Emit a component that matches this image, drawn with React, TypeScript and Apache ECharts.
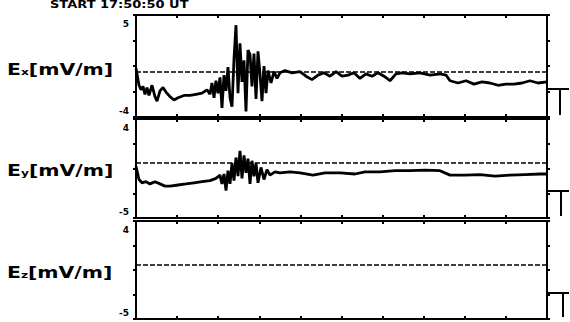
import React, { useEffect, useRef } from "react";
import * as echarts from "echarts";

// time axis in plot units (0..100, 10 major divisions)
const xMin = 0;
const xMax = 100;
const xInterval = 10;

// Ex [mV/m]
const exTime = [
  0, 0.73, 1.22, 1.7, 2.19, 2.68, 3.16, 3.89, 4.62, 5.11, 5.84, 6.57, 7.3, 8.27, 9.25, 10.22, 11.68, 13.14, 14.6, 16.06, 17.27,
  18.0, 18.49, 18.98, 19.46, 19.95, 20.44, 20.92, 21.41, 21.9, 22.38, 22.87, 23.36, 23.84, 24.33, 24.82, 25.3, 25.79, 26.28, 26.76, 27.25,
  27.74, 28.22, 28.71, 29.2, 29.68, 30.17, 30.66, 31.14, 31.63, 32.12, 32.85, 33.58, 34.31, 35.04,
  36.25, 37.96, 39.9, 41.36, 42.82, 44.28, 45.74, 47.2, 48.66, 50.12, 51.58, 53.04, 54.5, 55.96, 57.42, 58.88, 60.34, 61.8, 63.26, 64.72,
  66.67, 69.1, 71.53, 73.97, 75.43, 76.4, 78.35, 80.29, 82.24, 84.18, 86.13, 88.08, 90.02, 91.97, 93.92, 95.86, 97.81, 100,
];
const exValues = [
  0.3, -1.2, -1.6, -1.3, -2.0, -1.4, -2.1, -1.2, -2.2, -2.6, -1.7, -1.4, -1.8, -2.2, -2.5, -2.3, -2.1, -2.1, -2.0, -1.9, -1.6,
  -2.0, -1.0, -2.3, -0.8, -1.9, -0.5, -3.2, -0.3, -1.7, 0.4, -2.3, -3.1, 1.1, 4.1, -1.9, 2.5, -0.9, 1.0, -3.5, 1.9,
  1.5, -1.3, 1.6, -2.4, 1.8, -0.2, -2.6, 0.5, -1.9, 0.1, -1.0, 0.0, -0.6, -0.1,
  0.1, -0.1, 0.0, -0.4, -0.7, -0.3, -0.1, -0.4, 0.0, -0.4, -0.3, -0.1, -0.6, -0.2, -0.4, -0.1, -0.4, -0.8, -0.2, -0.1,
  -0.2, -0.1, -0.3, -0.2, -0.3, -0.8, -1.0, -0.8, -1.1, -0.9, -1.0, -1.2, -1.1, -1.1, -1.0, -0.8, -1.0, -0.9,
];

// Ey [mV/m]
const eyTime = [
  0, 0.73, 1.46, 2.43, 3.41, 4.62, 5.84, 7.06, 8.27, 10.22, 12.17, 14.11, 16.06, 18.0, 19.46, 20.44,
  20.92, 21.41, 21.9, 22.38, 22.87, 23.36, 23.84, 24.33, 24.82, 25.3, 25.79, 26.28, 26.76, 27.25, 27.74, 28.22, 28.71, 29.2, 29.68,
  30.41, 31.14, 31.87, 32.6, 33.82,
  35.04, 37.47, 39.9, 43.07, 45.99, 49.64, 53.28, 55.72, 59.37, 63.02, 66.67, 70.32, 73.97, 76.4, 80.05, 83.7, 87.35, 91.0, 94.65, 98.3, 100,
];
const eyValues = [
  -0.3, -1.5, -1.8, -1.7, -1.9, -1.7, -1.9, -2.1, -2.1, -2.0, -1.9, -1.8, -1.7, -1.6, -1.4, -1.1,
  -1.9, -1.0, -2.5, -0.7, -1.9, 0.0, -1.6, 0.5, -1.2, 1.1, -1.4, 0.7, -0.9, 0.4, -1.9, 0.2, -1.2, 0.0, -1.8,
  -0.4, -1.5, -0.6, -1.1, -0.8,
  -0.9, -0.8, -0.9, -1.1, -0.9, -0.9, -1.0, -0.8, -0.8, -0.7, -0.7, -0.65, -0.7, -1.1, -1.1, -1.05, -1.2, -1.1, -1.05, -1.0, -1.0,
];

// Ez [mV/m] : no trace recorded
const ezTime: number[] = [];
const ezValues: number[] = [];

const panelNames = ["Ex", "Ey", "Ez"];
const panelSub = ["x", "y", "z"];
const panelMax = [5, 4, 4];
const panelMin = [-4, -5, -5];
const topLabels = ["5", "4", "4"];
const bottomLabels = ["-4", "-5", "-5"];

const series = [
  { t: exTime, v: exValues },
  { t: eyTime, v: eyValues },
  { t: ezTime, v: ezValues },
];

const grids = [
  { top: 15, height: 102 },
  { top: 119, height: 99 },
  { top: 221, height: 98 },
];

const FONT = '"DejaVu Sans", sans-serif';

export default function App() {
  const ref = useRef<HTMLDivElement>(null);
  useEffect(() => {
    if (!ref.current) return;
    const chart = echarts.init(ref.current, null, { renderer: "svg" });

    const xAxes: any[] = [];
    const yAxes: any[] = [];
    const ser: any[] = [];
    const graphic: any[] = [];

    grids.forEach((g, i) => {
      const xBase = {
        type: "value",
        gridIndex: i,
        min: xMin,
        max: xMax,
        interval: xInterval,
        axisLine: { show: true, onZero: false, lineStyle: { color: "#000", width: 2 } },
        axisTick: { show: true, length: 3, inside: true, lineStyle: { color: "#000", width: 2 } },
        axisLabel: { show: false },
        splitLine: { show: false },
      };
      xAxes.push({ ...xBase, position: "bottom" });
      xAxes.push({ ...xBase, position: "top" });

      yAxes.push({
        type: "value",
        gridIndex: i,
        min: panelMin[i],
        max: panelMax[i],
        show: false,
        splitLine: { show: false },
      });
      const tickAxis = {
        type: "value",
        gridIndex: i,
        min: 0,
        max: 4,
        interval: 1,
        axisLine: { show: true, onZero: false, lineStyle: { color: "#000", width: 2 } },
        axisTick: { show: true, length: 3, lineStyle: { color: "#000", width: 2 } },
        splitLine: { show: false },
      };
      yAxes.push({
        ...tickAxis,
        position: "left",
        axisLabel: {
          show: true,
          margin: 7,
          color: "#000",
          fontFamily: FONT,
          fontWeight: "bold",
          fontSize: 9,
          formatter: (val: number) =>
            val === 4 ? `{t|${topLabels[i]}}` : val === 0 ? `{b|${bottomLabels[i]}}` : "",
          rich: {
            t: { padding: [17, 0, 0, 0], fontFamily: FONT, fontWeight: "bold", fontSize: 9, color: "#000" },
            b: { padding: [0, 0, 13, 0], fontFamily: FONT, fontWeight: "bold", fontSize: 9, color: "#000" },
          },
        },
      });
      yAxes.push({ ...tickAxis, position: "right", axisLabel: { show: false } });

      ser.push({
        type: "line",
        name: panelNames[i],
        xAxisIndex: 2 * i,
        yAxisIndex: 3 * i,
        data: series[i].t.map((t, k) => [t, series[i].v[k]]),
        showSymbol: false,
        symbol: "none",
        lineStyle: { color: "#000", width: 2.8 },
        markLine: {
          silent: true,
          symbol: "none",
          label: { show: false },
          lineStyle: { color: "#000", width: 1.6, type: [5, 2] },
          data: [{ yAxis: 0 }],
        },
      });

      // component label on the left
      graphic.push({
        type: "text",
        x: 7,
        y: [70, 171, 273][i],
        scaleX: 1.36,
        style: {
          text: `{e|E}{s|${panelSub[i]}}{n|[mV/m]}`,
          verticalAlign: "middle",
          fill: "#000",
          rich: {
            e: { fontFamily: FONT, fontWeight: "bold", fontSize: 15, fill: "#000" },
            s: { fontFamily: FONT, fontWeight: "bold", fontSize: 9, fill: "#000", padding: [5, 0, 0, 0] },
            n: { fontFamily: FONT, fontWeight: "bold", fontSize: 15, fill: "#000" },
          },
        },
      });

      // calibration bracket at right
      const bTop = g.top + Math.round(g.height * 0.73);
      const bBot = g.top + g.height;
      const vx = [560, 561, 563][i];
      graphic.push({
        type: "line",
        shape: { x1: 548, y1: bTop, x2: 569, y2: bTop },
        style: { stroke: "#000", lineWidth: 2 },
      });
      graphic.push({
        type: "line",
        shape: { x1: vx, y1: bTop, x2: vx, y2: bBot - 2 },
        style: { stroke: "#000", lineWidth: 2 },
      });
    });

    graphic.push({
      type: "text",
      x: 50,
      y: 0,
      scaleX: 1.3,
      style: {
        text: "START 17:50:50 UT",
        fontFamily: FONT,
        fontWeight: "bold",
        fontSize: 10,
        fill: "#000",
        verticalAlign: "top",
      },
    });

    chart.setOption({
      animation: false,
      backgroundColor: "#fff",
      grid: grids.map((g) => ({ left: 136, right: 23, top: g.top, height: g.height })),
      xAxis: xAxes,
      yAxis: yAxes,
      series: ser,
      graphic,
    });
    return () => chart.dispose();
  }, []);
  return (
    <div
      ref={ref}
      style={{ position: "fixed", left: 0, top: 0, width: 570, height: 322 }}
    />
  );
}
